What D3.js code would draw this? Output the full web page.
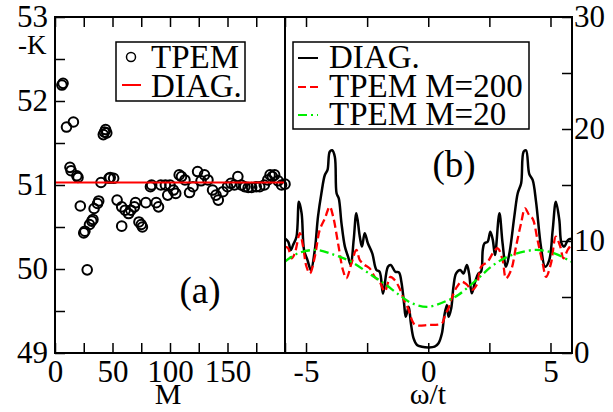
<!DOCTYPE html>
<html>
<head>
<meta charset="utf-8">
<script src="https://d3js.org/d3.v7.min.js"></script>
<style>
  body { margin: 0; background: #fff; }
  text { font-family: "Liberation Serif", "Times New Roman", serif; fill: #000; }
</style>
</head>
<body>
<div id="chart"></div>
<script>

// ---- panel (a): -K vs M ----
var tpemM = [6,7,10,16,13,14,19,20,22,25,26,28,30,32,33,34,37,38,40,42,43,44,45,47,48,51,54,58,58,61,64,66,69,70,73,75,76,79,83,84,88,90,92,96,98,100,103,105,108,110,113,117,120,124,127,130,133,137,140,142,146,150,153,156,159,162,165,168,171,175,178,182,185,187,189,191,194,197,200];
var tpemK = [52.19,52.21,51.69,51.75,51.21,51.17,51.11,51.09,50.75,50.43,50.45,49.99,50.53,50.57,50.59,50.72,50.78,50.81,51.03,51.60,51.63,51.66,51.62,51.08,51.09,51.08,50.82,50.51,50.74,50.70,50.66,50.70,50.74,50.79,50.56,50.53,50.50,50.79,50.98,51.00,50.79,50.74,51.00,51.00,50.88,51.00,50.94,50.90,51.12,51.10,51.06,50.91,50.98,51.16,51.05,51.12,51.06,50.94,50.88,50.82,50.92,50.98,51.02,51.00,51.10,51.00,50.98,50.97,50.97,50.98,50.98,51.00,51.06,51.12,51.10,51.12,51.05,51.00,51.01];
var diagK = 51.03;
var leftYTicks = [49, 50, 51, 52, 53];
var leftXTicks = [0, 50, 100, 150];

// ---- panel (b): DOS vs omega/t ----
var diagW = [-5.87,-5.73,-5.62,-5.53,-5.39,-5.29,-5.18,-5.08,-4.94,-4.80,-4.64,-4.51,-4.37,-4.23,-4.12,-4.03,-3.93,-3.82,-3.75,-3.66,-3.55,-3.41,-3.28,-3.17,-3.05,-2.94,-2.80,-2.71,-2.60,-2.47,-2.29,-2.12,-1.99,-1.85,-1.65,-1.53,-1.35,-1.20,-1.10,-0.99,-0.92,-0.80,-0.71,-0.60,-0.46,-0.26,0,0.26,0.42,0.56,0.65,0.76,0.83,0.94,1.03,1.14,1.31,1.44,1.58,1.67,1.78,1.92,2.05,2.16,2.23,2.30,2.43,2.54,2.64,2.73,2.91,3.04,3.18,3.32,3.52,3.66,3.80,3.90,4.00,4.13,4.27,4.41,4.61,4.78,4.95,5.09,5.22,5.36,5.45,5.56,5.72,5.84];
var diagD = [10.24,9.94,9.2,9.64,10.38,13.5,12.47,9.2,8.3,7.41,9.2,12.17,14.26,15.89,16.34,17.97,18.1,17.5,14.26,13.8,11.6,9.5,8.6,7.86,10.1,12.47,10.38,9.5,10.7,9.8,8.9,7.41,7.26,5.3,7.7,7.86,7.26,7.2,6.37,4.44,3.24,4.13,2.65,1.3,0.71,0.56,0.5,0.56,0.87,1.76,3.24,4.29,3.24,4.0,5.9,7.1,7.41,7.1,7.86,7.1,5.33,6.37,7.1,7.26,9.2,9.8,9.94,10.83,10.1,8.75,12.47,9.8,7.7,8.9,12.17,14.26,15.16,17.97,18.1,16.0,15.45,13.5,9.5,7.7,8.3,10.98,13.5,11.9,9.8,9.5,10.1,10.2];

var tpem200W = [-5.87,-5.73,-5.59,-5.46,-5.25,-5.12,-4.98,-4.84,-4.64,-4.44,-4.23,-4.03,-3.89,-3.69,-3.49,-3.35,-3.14,-2.94,-2.80,-2.60,-2.40,-2.19,-1.99,-1.78,-1.55,-1.41,-1.20,-0.99,-0.80,-0.67,-0.53,0,0.56,0.69,0.83,0.96,1.17,1.37,1.58,1.78,1.98,2.16,2.43,2.64,2.84,3.04,3.18,3.39,3.59,3.80,3.96,4.13,4.27,4.47,4.68,4.82,5.02,5.22,5.40,5.53,5.70,5.84];
var tpem200D = [9.5,9.35,8.45,8.9,10.7,9.5,7.7,7.1,8.6,10.98,12.0,13.06,12.17,9.8,7.41,6.67,8.0,9.2,8.3,7.86,7.56,6.8,6.37,5.5,6.8,6.6,5.9,4.73,3.84,2.95,2.5,2.5,2.65,3.4,4.0,4.88,5.9,6.37,6.1,5.63,6.07,7.7,8.15,8.9,9.35,8.3,6.67,7.41,9.5,11.6,12.92,12.3,12.0,10.1,8.0,6.8,8.0,10.38,9.5,8.45,9.2,9.64];

var tpem20W = [-5.87,-5.33,-4.58,-3.83,-3.15,-2.33,-1.8,-1.2,-0.67,0,0.83,1.24,2.05,2.57,3.25,4.34,5.16,5.84];
var tpem20D = [8.15,8.9,9.2,8.75,8.15,6.96,6.2,5.2,4.44,4.13,4.73,5.2,6.67,7.7,8.6,9.2,8.9,8.15];

var rightYTicks = [0, 10, 20, 30];
var rightXTicks = [-5, 0, 5];

var W = 613, H = 412;
var plotTop = 17, plotBot = 353;
var tickFont = 31, legFont = 33;

var svg = d3.select("#chart").append("svg")
    .attr("width", W)
    .attr("height", H)
    .attr("font-family", "Liberation Serif, Times New Roman, serif");

// scales
var xM = d3.scaleLinear().domain([0, 200]).range([55, 285]);
var yK = d3.scaleLinear().domain([49, 53]).range([plotBot, plotTop]);
var xW = d3.scaleLinear().domain([-5.88, 5.88]).range([284.5, 572]);
var yD = d3.scaleLinear().domain([0, 30]).range([plotBot, plotTop]);

function styleAxis(g, size) {
  g.attr("font-family", null);
  g.select(".domain").remove();
  g.selectAll(".tick line").attr("stroke", "#000").attr("stroke-width", 1.5);
  g.selectAll(".tick text").style("font-size", size + "px")
    .style("font-family", "Liberation Serif");
}

// ---------- left panel axes ----------
svg.append("g")
  .attr("transform", "translate(55,0)")
  .call(d3.axisLeft(yK).tickValues(d3.range(49, 53.01, 0.5)).tickSize(-10).tickPadding(7)
    .tickFormat(function(d){ return leftYTicks.indexOf(d) >= 0 ? d : ""; }))
  .call(styleAxis, tickFont);

svg.append("g")
  .attr("transform", "translate(0," + plotBot + ")")
  .call(d3.axisBottom(xM).tickValues(d3.range(0, 201, 25)).tickSize(-10).tickPadding(7)
    .tickFormat(function(d){ return leftXTicks.indexOf(d) >= 0 ? d : ""; }))
  .call(styleAxis, tickFont);

svg.append("g")
  .attr("transform", "translate(0," + plotTop + ")")
  .call(d3.axisTop(xM).tickValues(d3.range(0, 201, 25)).tickSize(-10).tickFormat(""))
  .call(styleAxis, tickFont);

// ---------- right panel axes ----------
svg.append("g")
  .attr("transform", "translate(572,0)")
  .call(d3.axisRight(yD).tickValues(d3.range(0, 31, 5)).tickSize(-10).tickPadding(2)
    .tickFormat(function(d){ return rightYTicks.indexOf(d) >= 0 ? d : ""; }))
  .call(styleAxis, tickFont);

svg.append("g")
  .attr("transform", "translate(0," + plotBot + ")")
  .call(d3.axisBottom(xW).tickValues(d3.range(-5, 5.01, 2.5)).tickSize(-10).tickPadding(7)
    .tickFormat(function(d){ return rightXTicks.indexOf(d) >= 0 ? String(d) : ""; }))
  .call(styleAxis, tickFont);

svg.append("g")
  .attr("transform", "translate(0," + plotTop + ")")
  .call(d3.axisTop(xW).tickValues(d3.range(-5, 5.01, 2.5)).tickSize(-10).tickFormat(""))
  .call(styleAxis, tickFont);

// ---------- left panel data ----------
var pts = tpemM.map(function(m, i){ return {m: m, k: tpemK[i]}; });

svg.append("g")
  .selectAll("circle")
  .data(pts)
  .enter().append("circle")
    .attr("cx", function(d){ return xM(d.m); })
    .attr("cy", function(d){ return yK(d.k); })
    .attr("r", 4.8)
    .attr("fill", "none")
    .attr("stroke", "#000")
    .attr("stroke-width", 2);

svg.append("line")
  .attr("x1", xM(0)).attr("x2", xM(200))
  .attr("y1", yK(diagK)).attr("y2", yK(diagK))
  .attr("stroke", "#ff0000").attr("stroke-width", 2.2);

// ---------- right panel data ----------
svg.append("clipPath").attr("id", "clipB")
  .append("rect").attr("x", 285).attr("y", plotTop).attr("width", 287).attr("height", plotBot - plotTop);

var line = d3.line()
  .x(function(d){ return xW(d[0]); })
  .y(function(d){ return yD(d[1]); })
  .curve(d3.curveCatmullRom.alpha(0.5));

var series = [
  {w: diagW, d: diagD, color: "#000", dash: null, width: 2.5},
  {w: tpem200W, d: tpem200D, color: "#ff0000", dash: "8,4", width: 2.3},
  {w: tpem20W, d: tpem20D, color: "#00ee00", dash: "9,4,2,4", width: 2.3}
];

var gLines = svg.append("g").attr("clip-path", "url(#clipB)");
series.forEach(function(s){
  gLines.append("path")
    .datum(s.w.map(function(w, i){ return [w, s.d[i]]; }))
    .attr("d", line)
    .attr("fill", "none")
    .attr("stroke", s.color)
    .attr("stroke-width", s.width)
    .attr("stroke-dasharray", s.dash);
});

// ---------- frames ----------
svg.append("rect").attr("x", 55).attr("y", plotTop).attr("width", 230).attr("height", plotBot - plotTop)
  .attr("fill", "none").attr("stroke", "#000").attr("stroke-width", 2);
svg.append("rect").attr("x", 285).attr("y", plotTop).attr("width", 287).attr("height", plotBot - plotTop)
  .attr("fill", "none").attr("stroke", "#000").attr("stroke-width", 2);

// ---------- legends ----------
var legA = svg.append("g");
legA.append("rect").attr("x", 116).attr("y", 42).attr("width", 129).attr("height", 59)
  .attr("fill", "#fff").attr("stroke", "#000").attr("stroke-width", 1.5);
legA.append("circle").attr("cx", 131).attr("cy", 57).attr("r", 4.5)
  .attr("fill", "none").attr("stroke", "#000").attr("stroke-width", 1.5);
legA.append("text").attr("x", 151).attr("y", 68).style("font-size", legFont + "px").text("TPEM");
legA.append("line").attr("x1", 122).attr("x2", 141).attr("y1", 85).attr("y2", 85)
  .attr("stroke", "#ff0000").attr("stroke-width", 2);
legA.append("text").attr("x", 151).attr("y", 97).style("font-size", legFont + "px").text("DIAG.");

var legB = svg.append("g");
legB.append("rect").attr("x", 293).attr("y", 42).attr("width", 236).attr("height", 87)
  .attr("fill", "#fff").attr("stroke", "#000").attr("stroke-width", 1.5);
var legItems = [
  {label: "DIAG.", color: "#000", dash: null, y: 58, base: 68},
  {label: "TPEM M=200", color: "#ff0000", dash: "8,4", y: 87, base: 97},
  {label: "TPEM M=20", color: "#00ee00", dash: "9,4,2,4", y: 115, base: 125}
];
legItems.forEach(function(it){
  legB.append("line").attr("x1", 298).attr("x2", 318).attr("y1", it.y).attr("y2", it.y)
    .attr("stroke", it.color).attr("stroke-width", 2).attr("stroke-dasharray", it.dash);
  legB.append("text").attr("x", 329).attr("y", it.base).style("font-size", legFont + "px").text(it.label);
});

// ---------- labels ----------
svg.append("text").attr("x", 18).attr("y", 54).style("font-size", "27px").text("-K");
svg.append("text").attr("x", 168).attr("y", 404).attr("text-anchor", "middle").style("font-size", "30px").text("M");
svg.append("text").attr("x", 428).attr("y", 404).attr("text-anchor", "middle").style("font-size", "30px").text("ω/t");
svg.append("text").attr("x", 200).attr("y", 303).attr("text-anchor", "middle").style("font-size", "37px").text("(a)");
svg.append("text").attr("x", 454).attr("y", 177).attr("text-anchor", "middle").style("font-size", "37px").text("(b)");

</script>
</body>
</html>
